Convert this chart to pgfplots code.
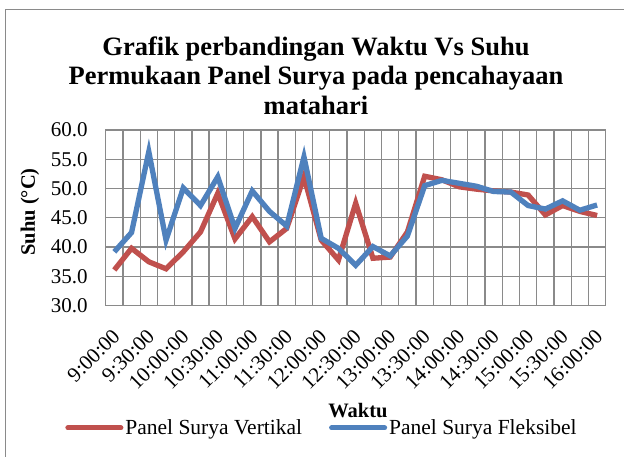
\documentclass[border=0pt]{standalone}
\usepackage{pgfplots}
\pgfplotsset{compat=1.18}
\usepackage{fontspec}
\setmainfont{Liberation Serif}
\definecolor{redS}{HTML}{C0504D}
\definecolor{blueS}{HTML}{4F81BD}
\definecolor{gridc}{HTML}{8A8A8A}
\pgfplotstableread{
i red blue
0 36.1 39.2
1 39.8 42.5
2 37.5 56.3
3 36.3 41.2
4 39.2 50.1
5 42.6 47.1
6 49.2 52.0
7 41.4 43.2
8 45.2 49.6
9 40.9 46.1
10 43.2 43.6
11 52.0 55.4
12 41.2 41.5
13 37.8 39.8
14 47.5 36.9
15 38.1 40.1
16 38.3 38.5
17 42.6 41.9
18 52.1 50.5
19 51.5 51.4
20 50.3 50.9
21 49.9 50.4
22 49.6 49.5
23 49.4 49.4
24 48.9 47.1
25 45.5 46.5
26 47.1 47.9
27 46.1 46.3
28 45.4 47.2
}\datatable
\begin{document}
\begin{tikzpicture}[x=1pt,y=1pt]
\useasboundingbox (0,0) rectangle (624,457);
\fill[white] (0,0) rectangle (624,457);
\draw[gridc, line width=1.5pt] (5.3,-5) -- (5.3,447.3) -- (630,447.3);
\node[align=center, font=\fontsize{26.5}{29.5}\selectfont\bfseries, anchor=north] at (316,424)
  {Grafik perbandingan Waktu Vs Suhu\\Permukaan Panel Surya pada pencahayaan\\matahari};
\node[rotate=90, font=\fontsize{20.5}{24}\selectfont\bfseries] at (30,245) {Suhu (°C)};
\begin{axis}[
  at={(105.7pt,151.3pt)}, anchor=south west,
  scale only axis, width=500pt, height=175.7pt,
  xmin=-0.5, xmax=28.5, ymin=30, ymax=60,
  xtick={0,2,...,28},
  xticklabels={9:00:00,9:30:00,10:00:00,10:30:00,11:00:00,11:30:00,12:00:00,12:30:00,13:00:00,13:30:00,14:00:00,14:30:00,15:00:00,15:30:00,16:00:00},
  minor xtick={-0.5,0.5,...,28.5},
  ytick={30,35,...,60},
  xminorgrids=true, ymajorgrids=true, xmajorgrids=false,
  grid style={gridc, line width=1.3pt},
  minor grid style={gridc, line width=1.3pt},
  axis line style={gridc, line width=1.3pt},
  major tick length=0pt, minor tick length=0pt,
  tick style={draw=none},
  /pgf/number format/assume math mode=true,
  yticklabel={\pgfmathprintnumber[fixed,fixed zerofill,precision=1]{\tick}},
  ticklabel style={font=\fontsize{21}{24}\selectfont},
  yticklabel style={anchor=east, inner sep=0pt, xshift=-18pt},
  xticklabel style={inner sep=0pt, xshift=2pt, yshift=-27pt, rotate=45, anchor=east},
  xlabel={Waktu},
  xlabel style={font=\fontsize{20.5}{24}\selectfont\bfseries, at={(axis description cs:0.5046,-0.594)}, anchor=center},
  legend columns=2,
  legend style={draw=none, fill=none, at={(axis description cs:0.4326,-0.696)}, anchor=center,
    font=\fontsize{21.5}{24}\selectfont, inner sep=0pt,
    /tikz/every even column/.append style={column sep=25pt},
    nodes={inner sep=2pt}},
  legend image code/.code={\draw[#1, line width=5pt, line cap=round] (0pt,0pt) -- (53pt,0pt);},
  clip=false,
]
\addplot[redS, line width=5.3pt, line join=miter] table[x=i, y=red] {\datatable};
\addlegendentry{Panel Surya Vertikal}
\addplot[blueS, line width=5.3pt, line join=miter] table[x=i, y=blue] {\datatable};
\addlegendentry{Panel Surya Fleksibel}
\end{axis}
\end{tikzpicture}
\end{document}
